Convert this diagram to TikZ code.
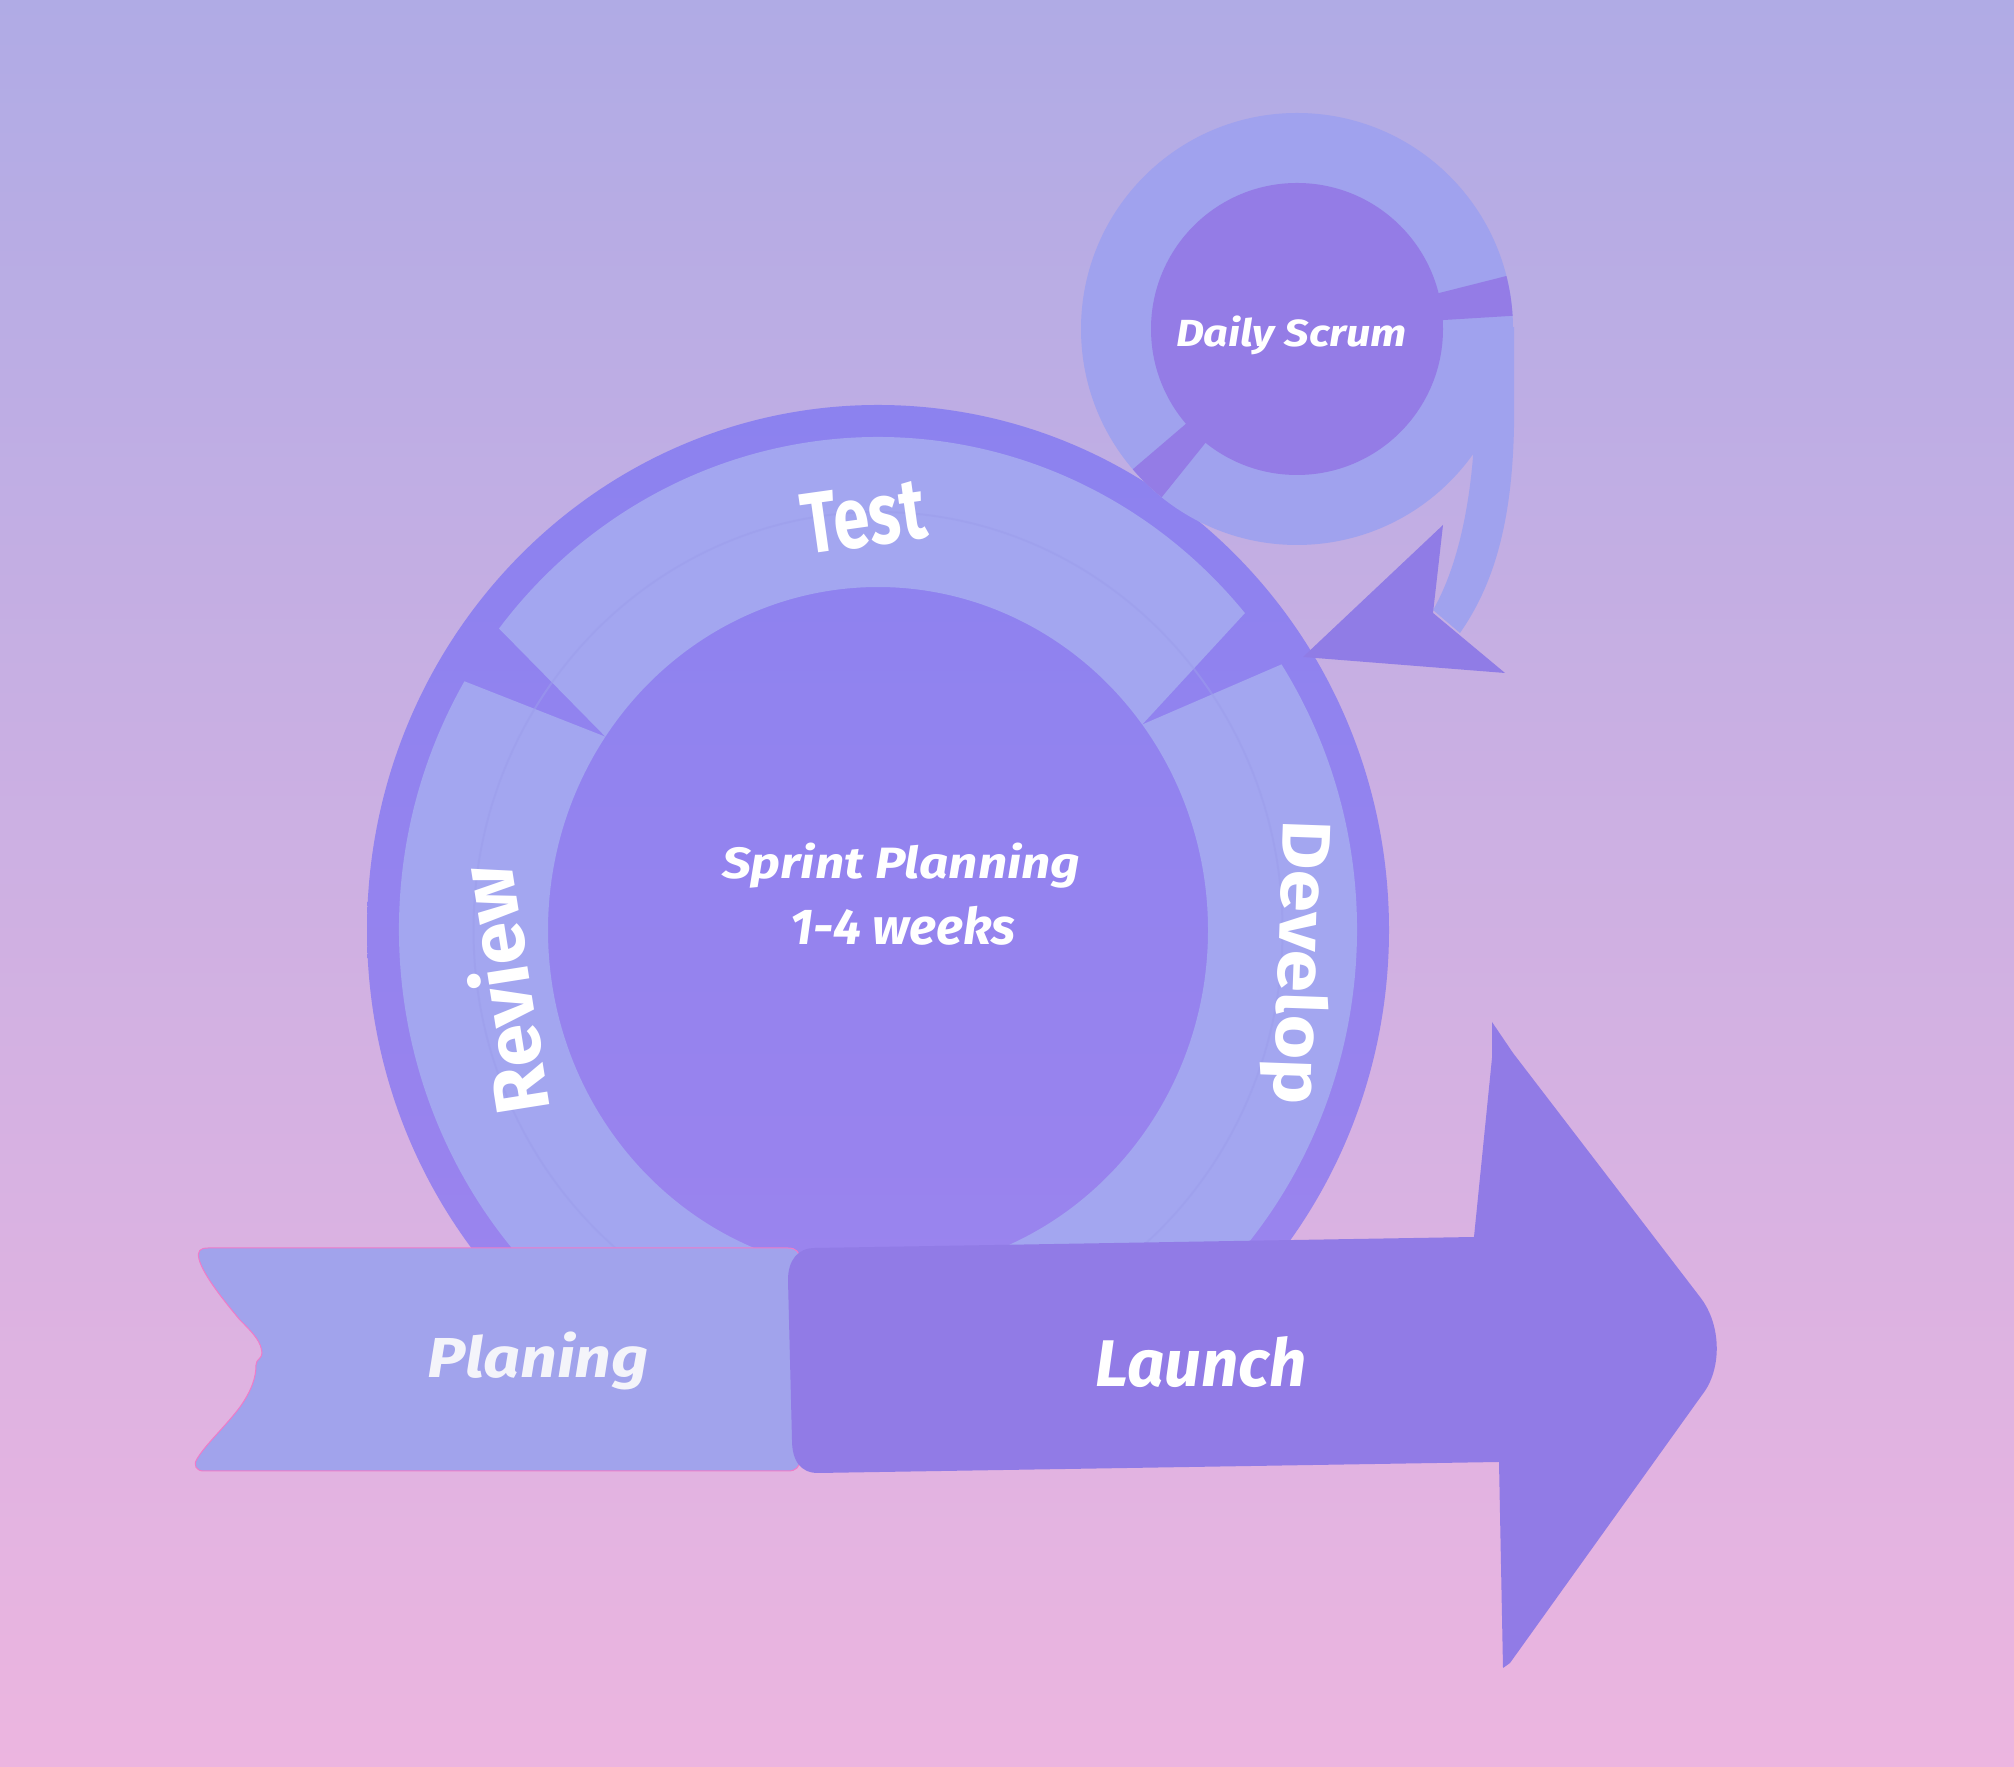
\documentclass[tikz,border=0pt]{standalone}
\usepackage{fontspec}
\setmainfont{Fira Sans}
\usepackage{graphicx}
\usetikzlibrary{calc}

\definecolor{bgtop}{HTML}{B0ABE5}
\definecolor{bgbot}{HTML}{ECB5E0}
\definecolor{ringtop}{HTML}{8C82EF}
\definecolor{ringbot}{HTML}{9D84EE}
\definecolor{bandcol}{HTML}{A3A6F0}
\definecolor{midcol}{HTML}{9C9EEC}
\definecolor{dsring}{HTML}{A0A2EE}
\definecolor{dsdisk}{HTML}{947CE6}
\definecolor{headcol}{HTML}{907CE6}
\definecolor{launchcol}{HTML}{917BE6}
\definecolor{plancol}{HTML}{A1A3EC}
\definecolor{planline}{HTML}{F07BC8}
\definecolor{plantext}{HTML}{F4F4FA}

\newcommand{\fitlabel}[3]{\resizebox{#1pt}{#2pt}{#3}}

\begin{document}
\begin{tikzpicture}[x=1pt,y=1pt,
  lbl/.style={inner sep=0pt, outer sep=0pt, text=white, font=\bfseries\itshape},
  seglbl/.style={inner sep=0pt, outer sep=0pt, text=white, font=\bfseries},
  band/.style={fill=bandcol}
]
\useasboundingbox (0,0) rectangle (2014,1767);
\shade[top color=bgtop, bottom color=bgbot] (0,0) rectangle (2014,1767);

% sprint cycle: dark disc with three light segments on top
\coordinate (C) at (878,837);
\shade[top color=ringtop, bottom color=ringbot] (C) ellipse [x radius=511, y radius=525];

% Test segment
\fill[band] ($(C)+(40:479 and 493)$)
  arc[start angle=40, end angle=142.3, x radius=479, y radius=493]
  -- ($(C)+(145.7:330 and 343)$)
  arc[start angle=145.7, end angle=36.8, x radius=330, y radius=343] -- cycle;
% Review segment
\fill[band] ($(C)+(149.7:479 and 493)$)
  arc[start angle=149.7, end angle=268, x radius=479, y radius=493]
  -- ($(C)+(268:330 and 343)$)
  arc[start angle=268, end angle=145.7, x radius=330, y radius=343] -- cycle;
% Develop segment
\fill[band] ($(C)+(32.6:479 and 493)$)
  arc[start angle=32.6, end angle=-88, x radius=479, y radius=493]
  -- ($(C)+(-88:330 and 343)$)
  arc[start angle=-88, end angle=36.8, x radius=330, y radius=343] -- cycle;
% guide line through the middle of the segments
\draw[midcol, line width=2pt, opacity=0.5] (C) ellipse [x radius=404.5, y radius=418];

% daily scrum loop
\coordinate (D) at (1297,1438);
\fill[dsring] (1514,1440) -- (1514,1340)
  .. controls (1512,1240) and (1492,1180) .. (1460,1134)
  -- (1433,1157)
  .. controls (1455,1195) and (1468,1250) .. (1473,1310)
  -- (1470,1420) -- cycle;
\fill[dsring] (D) circle[radius=216];
\fill[dsdisk] (D) -- ($(D)+(3.5:216)$) arc[start angle=3.5, end angle=14.2, radius=216] -- cycle;
\fill[dsdisk] (D) -- ($(D)+(220.5:216)$) arc[start angle=220.5, end angle=231.2, radius=216] -- cycle;
\fill[dsdisk] (D) circle[radius=146];
\fill[headcol] (1443,1242) -- (1433,1154) -- (1505,1094) -- (1303,1110) -- cycle;

% planning ribbon
\filldraw[fill=plancol, draw=planline, line width=1pt]
  (208,519) -- (788,519) .. controls (796,519) and (800,515) .. (800,507)
  -- (800,308) .. controls (800,300) and (796,296) .. (788,296)
  -- (204,296) .. controls (196,296) and (193,302) .. (197,308)
  .. controls (205,322) and (225,340) .. (240,360)
  .. controls (252,377) and (256,390) .. (256,402)
  .. controls (256,408) and (262,408) .. (262,414)
  .. controls (261,425) and (255,432) .. (240,447)
  .. controls (225,465) and (203,492) .. (199,508)
  .. controls (197,516) and (200,519) .. (208,519) -- cycle;

% launch arrow
\fill[launchcol] (815,519) -- (1474,530) -- (1492,709) -- (1492,745) -- (1513,714)
  -- (1700,470) .. controls (1722,442) and (1722,397) .. (1702,372)
  -- (1510,104) -- (1503,99) -- (1499,305) -- (818,294)
  .. controls (800,294) and (792,307) .. (792,327)
  -- (788,487) .. controls (788,507) and (798,519) .. (815,519) -- cycle;

% labels
\node[lbl, anchor=base west] (sprint) at (722,888) {\fitlabel{358}{35.5}{Sprint Planning}};
\node[lbl, anchor=base west] (weeks) at (790.5,822) {\fitlabel{225}{38.3}{1-4 weeks}};
\node[lbl, anchor=base west] (daily) at (1176,1420.2) {\fitlabel{231}{30.6}{Daily Scrum}};
\node[lbl, anchor=base west] (launch) at (1095.6,380) {\fitlabel{210.6}{50}{Launch}};
\node[lbl, anchor=base west, text=plantext] (planing) at (427.7,389.7) {\fitlabel{221}{45.6}{Planing}};
\node[seglbl, anchor=base, rotate=8] (test) at (867.5,1221) {\fitlabel{124}{60}{Test}};
\node[seglbl, anchor=base, rotate=99] (review) at (531,781) {\fitlabel{250}{62}{Review}};
\node[seglbl, anchor=base, rotate=-92] (develop) at (1279,805) {\fitlabel{285}{52}{Develop}};
\end{tikzpicture}
\end{document}
